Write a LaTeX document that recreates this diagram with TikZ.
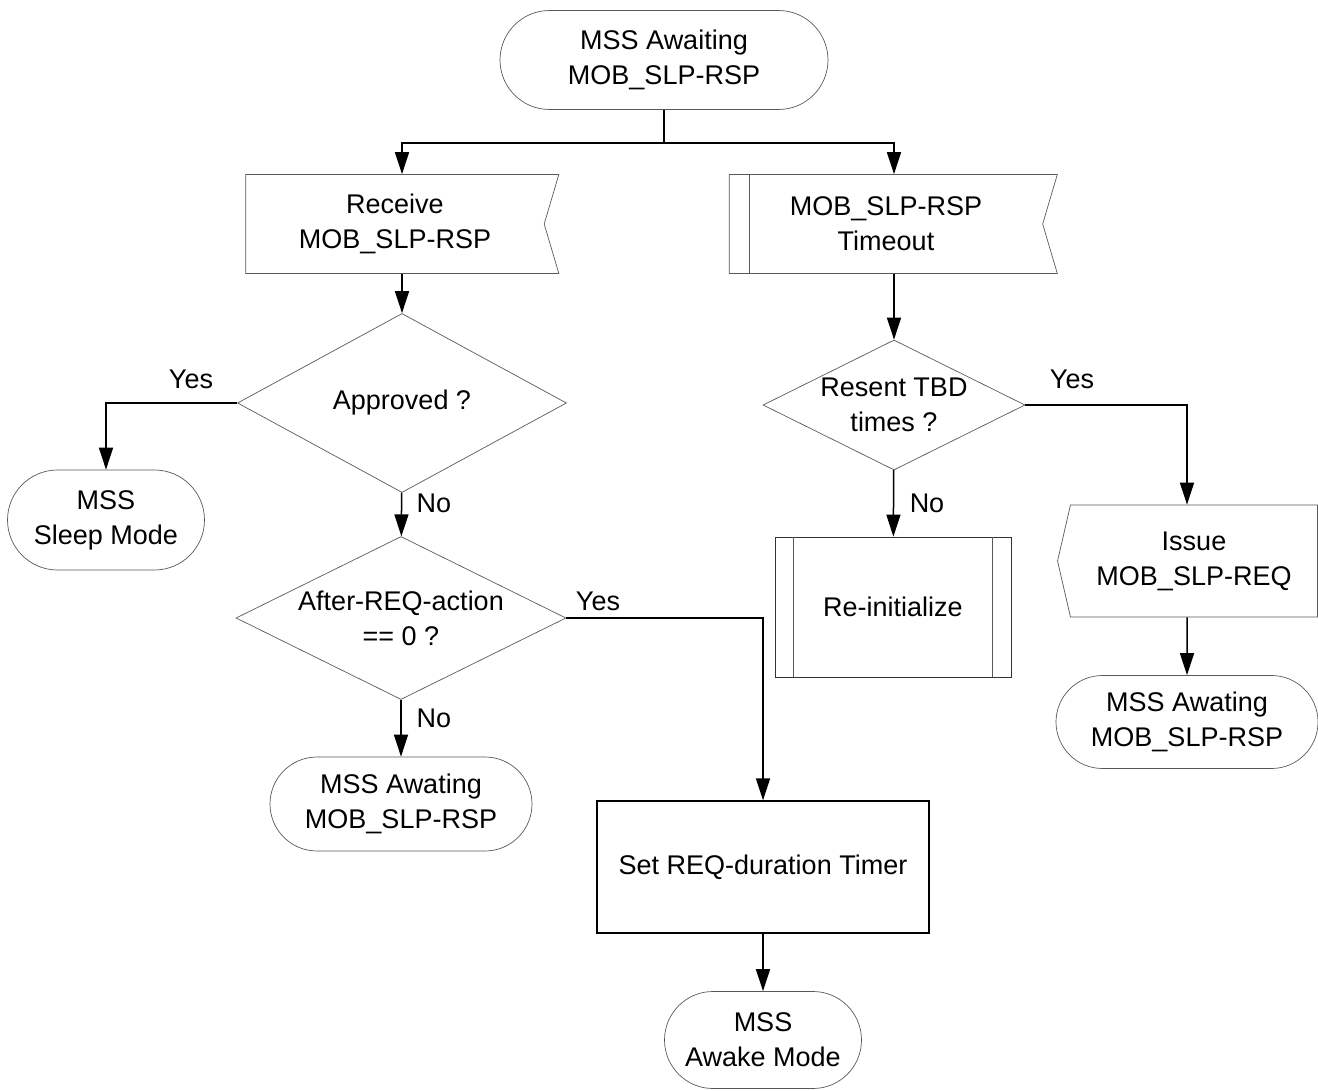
\documentclass[tikz,border=0pt]{standalone}
\usepackage{fontspec}
\setmainfont{Liberation Sans}
\usetikzlibrary{shapes.geometric,shapes.misc,shapes.symbols,arrows.meta,calc}

\tikzset{
  txt/.style={font=\fontsize{27}{35}\selectfont, align=center},
  flowbox/.style={txt, draw=black!65, line width=0.7pt, inner sep=0pt},
  term/.style={flowbox, rounded rectangle},
  decide/.style={flowbox, diamond, aspect=2, inner sep=-3pt},
  recvbox/.style={flowbox, signal, signal to=nowhere, signal from=east, signal pointer angle=147},
  sendbox/.style={flowbox, signal, signal to=west, signal pointer angle=154},
  sidebar/.style={draw=black!65, line width=0.7pt},
  link/.style={line width=1.5pt},
  arrowlink/.style={link, -{Triangle[length=22pt,width=14pt]}}
}

\begin{document}
\begin{tikzpicture}[x=1pt,y=-1pt]
    \useasboundingbox (0,0) rectangle (1318,1091);
    \node (mss_awaiting) [term, minimum width=328, minimum height=99] at (664,60) {MSS Awaiting\\MOB\_SLP-RSP};
    \coordinate (split) at (664,143);
    \node (recv_rsp) [recvbox, minimum width=313, minimum height=99] at (395,224) {Receive\\MOB\_SLP-RSP};
    \node (rsp_timeout) [recvbox, minimum width=328, minimum height=99] at (886,224) {MOB\_SLP-RSP\\Timeout};
    \node (approved) [decide, minimum width=329, minimum height=179] at (402,403) {Approved ?};
    \node (sleep_mode) [term, minimum width=197, minimum height=100] at (106,520) {MSS\\Sleep Mode};
    \node (after_req) [decide, minimum width=330, minimum height=163] at (401,618) {After-REQ-action\\== 0 ?};
    \node (awaiting_left) [term, minimum width=262, minimum height=94] at (401,804) {MSS Awating\\MOB\_SLP-RSP};
    \node (req_timer) [flowbox, draw=black, line width=1.3pt, minimum width=332, minimum height=132] at (763,867) {Set REQ-duration Timer};
    \node (awake_mode) [term, minimum width=197, minimum height=97] at (763,1040) {MSS\\Awake Mode};
    \node (resent) [decide, minimum width=262, minimum height=130] at (894,405) {Resent TBD\\times ?};
    \node (reinit) [flowbox, draw=black!80, minimum width=236, minimum height=140] at (893,607) {Re-initialize};
    \node (issue_req) [sendbox, minimum width=260, minimum height=112] at (1194,561) {Issue\\MOB\_SLP-REQ};
    \node (awaiting_right) [term, minimum width=262, minimum height=93] at (1187,722) {MSS Awating\\MOB\_SLP-RSP};

    \draw [sidebar] ($(rsp_timeout.north west)+(20,0)$) -- ($(rsp_timeout.south west)+(20,0)$);
    \draw [sidebar] ($(reinit.north west)+(19,0)$) -- ($(reinit.south west)+(19,0)$);
    \draw [sidebar] ($(reinit.north east)+(-19,0)$) -- ($(reinit.south east)+(-19,0)$);

    \draw [link] (mss_awaiting) -- (split);
    \draw [arrowlink] (split) -| (approved.north |- recv_rsp.north);
    \draw [arrowlink] (split) -| (resent.north |- rsp_timeout.north);
    \draw [arrowlink] (approved.north |- recv_rsp.south) -- (approved);
    \draw [arrowlink] (approved.west) -| (sleep_mode.north);
    \draw [arrowlink] (approved) -- (after_req);
    \draw [arrowlink] (after_req.east) -| (req_timer.north);
    \draw [arrowlink] (after_req) -- (awaiting_left);
    \draw [arrowlink] (req_timer) -- (awake_mode);
    \draw [arrowlink] (resent.north |- rsp_timeout.south) -- (resent);
    \draw [arrowlink] (resent) -- (reinit);
    \draw [arrowlink] (resent.east) -| (awaiting_right.north |- issue_req.north);
    \draw [arrowlink] (awaiting_right.north |- issue_req.south) -- (awaiting_right);

    \node (yes_approved) [txt] at (191,379) {Yes};
    \node (no_approved) [txt] at (434,503) {No};
    \node (yes_after) [txt] at (598,601) {Yes};
    \node (no_after) [txt] at (434,718) {No};
    \node (yes_resent) [txt] at (1072,379) {Yes};
    \node (no_resent) [txt] at (927,503) {No};
\end{tikzpicture}
\end{document}
